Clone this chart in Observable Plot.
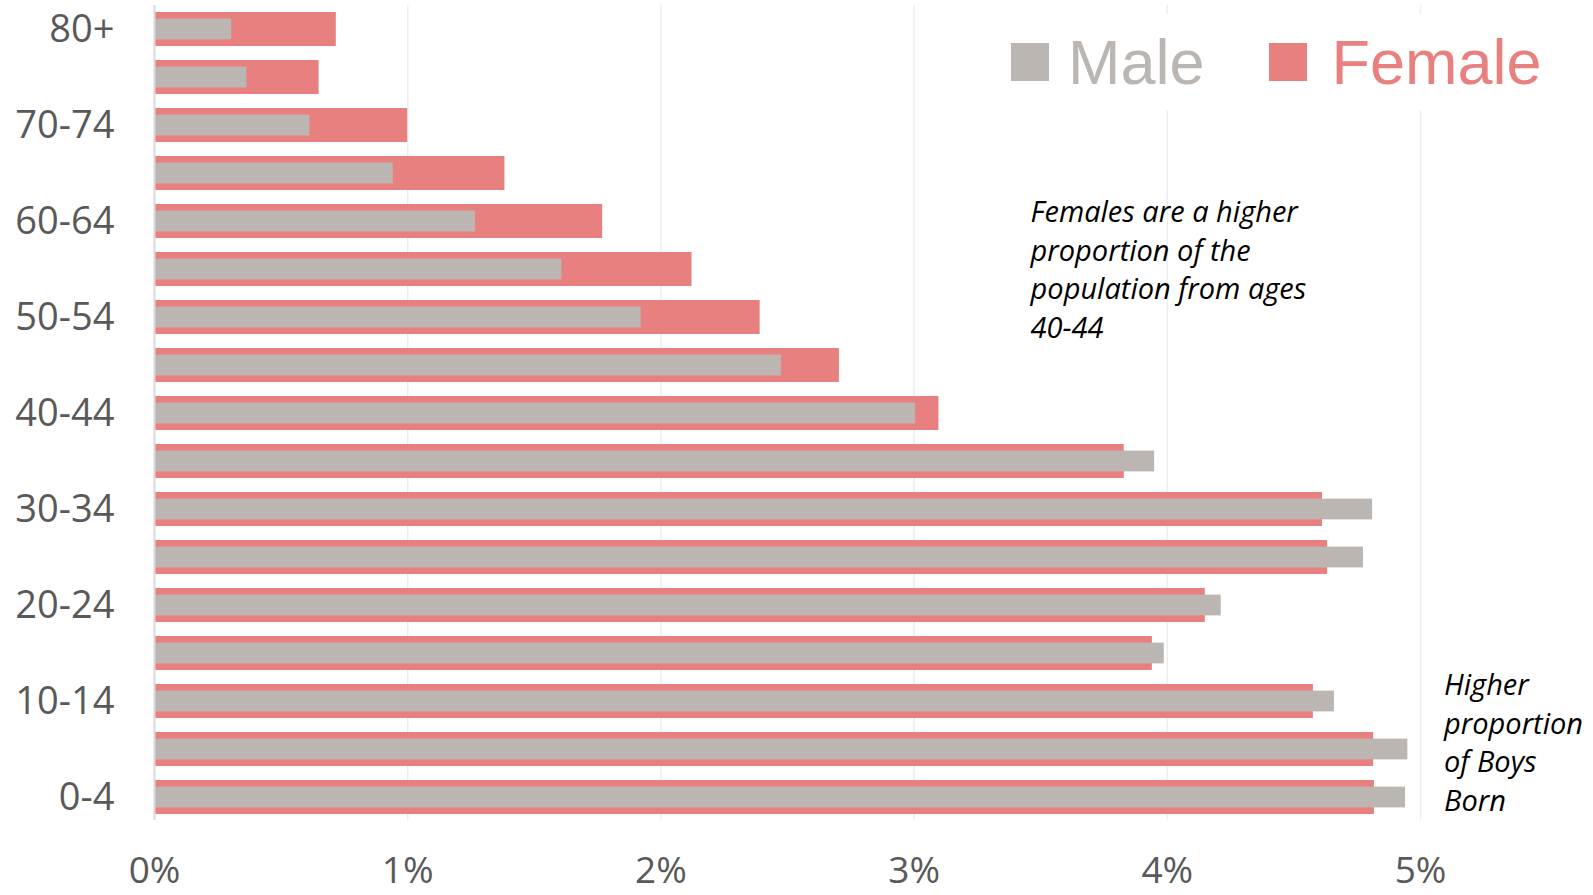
<!DOCTYPE html>
<html>
<head>
<meta charset="utf-8">
<script src="https://cdn.jsdelivr.net/npm/d3@7"></script>
<script src="https://cdn.jsdelivr.net/npm/@observablehq/plot@0.6"></script>
<style>
  html, body { margin: 0; padding: 0; background: #fff; }
  #wrap { position: relative; width: 1593px; height: 895px; overflow: hidden; }
  #legend { position: absolute; left: 990px; top: 14px; height: 96px; width: 600px;
            background: #fff; display: flex; align-items: center;
            font-family: "Liberation Sans", Arial, sans-serif; font-size: 63px; }
  .item { display: flex; align-items: center; }
  .sw { width: 38px; height: 38px; display: inline-block; }
</style>
</head>
<body>
<div id="wrap"></div>
<script>
const ages = ["80+","75-79","70-74","65-69","60-64","55-59","50-54","45-49","40-44",
              "35-39","30-34","25-29","20-24","15-19","10-14","5-9","0-4"];
const femaleValues = [0.718,0.650,1.000,1.384,1.770,2.123,2.392,2.705,3.098,
                      3.830,4.613,4.633,4.150,3.941,4.577,4.815,4.818];
const maleValues   = [0.305,0.365,0.614,0.943,1.268,1.609,1.922,2.476,3.006,
                      3.950,4.811,4.775,4.213,3.988,4.660,4.950,4.941];
const yTickLabels = ["80+","70-74","60-64","50-54","40-44","30-34","20-24","10-14","0-4"];
const xTicks = [0,1,2,3,4,5];
const seriesNames = ["Male","Female"];
const colors = {Male: "#BBB6B1", Female: "#E88080"};
const noteFemale = {x: 3.46, y: "55-59", text: "Females are a higher\nproportion of the\npopulation from ages\n40-44"};
const noteBoys = {x: 5.093, y: "5-9", text: "Higher\nproportion\nof Boys\nBorn"};

const data = ages.map((a, i) => ({age: a, female: femaleValues[i], male: maleValues[i]}));

const noteStyle = {x: "x", y: "y", text: "text", textAnchor: "start", lineAnchor: "middle",
                   lineHeight: 1.33, fontSize: 29, fontStyle: "italic", fill: "#000"};

const chart = Plot.plot({
  width: 1593,
  height: 895,
  marginLeft: 154,
  marginRight: 173,
  marginTop: 5,
  marginBottom: 75,
  x: {domain: [0, 5]},
  y: {domain: ages, paddingInner: 0.3, paddingOuter: 0.1},
  style: {fontFamily: "'Open Sans', sans-serif", background: "#fff", overflow: "visible"},
  marks: [
    Plot.gridX(xTicks.slice(1), {stroke: "#eeeeee", strokeOpacity: 1, strokeWidth: 1.5}),
    Plot.barX(data, {x: "female", y: "age", fill: colors.Female}),
    Plot.barX(data, {x: "male", y: "age", fill: colors.Male, insetTop: 6.6, insetBottom: 6.6}),
    Plot.ruleX([0], {stroke: "#d9d9d9", strokeWidth: 2}),
    Plot.axisX({ticks: xTicks, tickFormat: d => d + "%", tickSize: 0, tickPadding: 36,
                fontSize: 37, color: "#595959", label: null}),
    Plot.axisY({ticks: yTickLabels, tickSize: 0, tickPadding: 40,
                fontSize: 38, color: "#595959", label: null}),
    Plot.text([noteFemale], {...noteStyle, dy: -2}),
    Plot.text([noteBoys], {...noteStyle, dy: -9})
  ]
});

const wrap = document.getElementById("wrap");
wrap.appendChild(chart);

const legend = document.createElement("div");
legend.id = "legend";
seriesNames.forEach((name, i) => {
  const item = document.createElement("div");
  item.className = "item";
  item.style.marginLeft = i === 0 ? "21px" : "64px";
  const sw = document.createElement("span");
  sw.className = "sw";
  sw.style.background = colors[name];
  const label = document.createElement("span");
  label.textContent = name;
  label.style.color = colors[name];
  label.style.marginLeft = (i === 0 ? 19 : 25) + "px";
  item.appendChild(sw);
  item.appendChild(label);
  legend.appendChild(item);
});
wrap.appendChild(legend);
</script>
</body>
</html>
